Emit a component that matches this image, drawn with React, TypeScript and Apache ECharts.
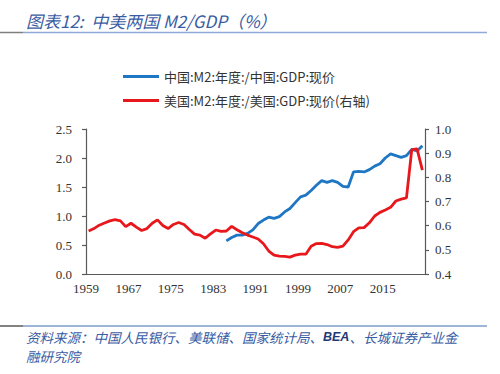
import React, { useEffect, useRef } from "react";
import * as echarts from "echarts";

const years = [
  "1959","1960","1961","1962","1963","1964","1965","1966","1967","1968",
  "1969","1970","1971","1972","1973","1974","1975","1976","1977","1978",
  "1979","1980","1981","1982","1983","1984","1985","1986","1987","1988",
  "1989","1990","1991","1992","1993","1994","1995","1996","1997","1998",
  "1999","2000","2001","2002","2003","2004","2005","2006","2007","2008",
  "2009","2010","2011","2012","2013","2014","2015","2016","2017","2018",
  "2019","2020","2021","2022",
];

// 中国 M2/GDP (left axis), data from 1985
const chinaM2GDP = [
  null, null, null, null, null, null, null, null, null, null,
  null, null, null, null, null, null, null, null, null, null,
  null, null, null, null, null, null,
  0.57, 0.63, 0.67, 0.67, 0.70, 0.76, 0.87, 0.93, 0.98, 0.96,
  0.99, 1.07, 1.13, 1.23, 1.33, 1.36, 1.44, 1.53, 1.61, 1.58,
  1.61, 1.58, 1.51, 1.50, 1.76, 1.77, 1.76, 1.80, 1.86, 1.90,
  2.00, 2.07, 2.04, 2.01, 2.04, 2.15, 2.12, 2.21,
];

// 美国 M2/GDP (right axis)
const usM2GDP = [
  0.578, 0.588, 0.602, 0.611, 0.620, 0.625, 0.620, 0.596, 0.610, 0.594,
  0.580, 0.588, 0.610, 0.624, 0.601, 0.588, 0.605, 0.613, 0.605, 0.584,
  0.565, 0.561, 0.548, 0.566, 0.582, 0.576, 0.578, 0.597, 0.583, 0.571,
  0.561, 0.553, 0.545, 0.525, 0.495, 0.478, 0.474, 0.473, 0.470, 0.478,
  0.482, 0.482, 0.515, 0.526, 0.527, 0.522, 0.513, 0.510, 0.515, 0.541,
  0.575, 0.591, 0.592, 0.612, 0.640, 0.655, 0.665, 0.676, 0.702, 0.710,
  0.715, 0.915, 0.918, 0.830,
];

const seriesNames = ["中国:M2:年度:/中国:GDP:现价", "美国:M2:年度:/美国:GDP:现价(右轴)"];
const titleText = "图表12:  中美两国 M2/GDP（%）";
const sourcePrefix = "资料来源：中国人民银行、美联储、国家统计局、";
const sourceBold = "BEA";
const sourceSuffix = "、长城证券产业金";
const sourceLine2 = "融研究院";

const AXIS_FONT = "'Liberation Serif', 'DejaVu Serif', serif";
const CJK_FONT = "'Noto Sans CJK SC', sans-serif";

export default function App() {
  const ref = useRef<HTMLDivElement>(null);

  useEffect(() => {
    if (!ref.current) return;
    const chart = echarts.init(ref.current, undefined, { renderer: "svg" });
    const axisLineStyle = { color: "#595959", width: 1.2 };
    chart.setOption({
      animation: false,
      backgroundColor: "#ffffff",
      grid: { left: 86, right: 75, top: 129, bottom: 100, containLabel: false },
      legend: {
        orient: "vertical",
        left: 118,
        top: 65,
        itemWidth: 36,
        itemHeight: 3,
        itemGap: 11,
        icon: "rect",
        textStyle: { fontFamily: CJK_FONT, fontSize: 13, color: "#333333" },
        data: seriesNames,
      },
      xAxis: {
        type: "category",
        data: years,
        boundaryGap: true,
        axisLine: { lineStyle: axisLineStyle },
        axisTick: {
          inside: true,
          length: 3,
          lineStyle: axisLineStyle,
          interval: (idx: number) => idx % 8 === 0,
        },
        axisLabel: {
          interval: (idx: number) => idx % 8 === 0,
          fontFamily: AXIS_FONT,
          fontSize: 13,
          color: "#333333",
          margin: 8,
          padding: [0, 5.3, 0, 0],
        },
        splitLine: { show: false },
      },
      yAxis: [
        {
          type: "value",
          min: 0,
          max: 2.5,
          interval: 0.5,
          position: "left",
          axisLine: { show: true, lineStyle: axisLineStyle },
          axisTick: { show: true, length: 4, lineStyle: axisLineStyle },
          axisLabel: {
            fontFamily: AXIS_FONT,
            fontSize: 13,
            color: "#333333",
            margin: 14,
            formatter: (v: number) => v.toFixed(1),
          },
          splitLine: { show: false },
        },
        {
          type: "value",
          min: 0.4,
          max: 1.0,
          interval: 0.1,
          position: "right",
          axisLine: { show: true, lineStyle: axisLineStyle },
          axisTick: { show: true, length: 4, lineStyle: axisLineStyle },
          axisLabel: {
            fontFamily: AXIS_FONT,
            fontSize: 13,
            color: "#333333",
            margin: 10,
            formatter: (v: number) => v.toFixed(1),
          },
          splitLine: { show: false },
        },
      ],
      series: [
        {
          name: seriesNames[0],
          type: "line",
          yAxisIndex: 0,
          data: chinaM2GDP,
          symbol: "none",
          connectNulls: false,
          color: "#1f77c4",
          lineStyle: { color: "#1f77c4", width: 2.8 },
        },
        {
          name: seriesNames[1],
          type: "line",
          yAxisIndex: 1,
          data: usM2GDP,
          symbol: "none",
          color: "#e8171c",
          lineStyle: { color: "#e8171c", width: 2.8 },
        },
      ],
      graphic: [
        {
          type: "text",
          x: 26,
          y: 20,
          style: {
            text: titleText,
            font: `italic 17px ${CJK_FONT}`,
            fill: "#3a5ca3",
            verticalAlign: "middle",
          },
        },
        {
          type: "line",
          shape: { x1: 0, y1: 32.5, x2: 23, y2: 32.5 },
          style: { stroke: "#7f7f7f", lineWidth: 1.5 },
        },
        {
          type: "line",
          shape: { x1: 23, y1: 32.5, x2: 487, y2: 32.5 },
          style: { stroke: "#8eaad6", lineWidth: 1.5 },
        },
        {
          type: "line",
          shape: { x1: 0, y1: 326, x2: 23, y2: 326 },
          style: { stroke: "#595959", lineWidth: 1.5 },
        },
        {
          type: "line",
          shape: { x1: 23, y1: 326, x2: 487, y2: 326 },
          style: { stroke: "#7f9cc9", lineWidth: 1.5 },
        },
        {
          type: "text",
          x: 26,
          y: 327,
          style: {
            text: `{a|${sourcePrefix}}{b|${sourceBold}}{a|${sourceSuffix}}\n{a|${sourceLine2}}`,
            verticalAlign: "top",
            rich: {
              a: { font: `italic 13.5px ${CJK_FONT}`, fill: "#3a5ca3", lineHeight: 19.5 },
              b: { font: `italic bold 12.5px 'Liberation Sans', Arial, sans-serif`, fill: "#1f3a73", lineHeight: 19.5 },
            },
          },
        },
      ],
    });
    return () => chart.dispose();
  }, []);

  return (
    <div
      ref={ref}
      style={{ position: "fixed", left: 0, top: 0, width: 500, height: 374, background: "#fff" }}
    />
  );
}
